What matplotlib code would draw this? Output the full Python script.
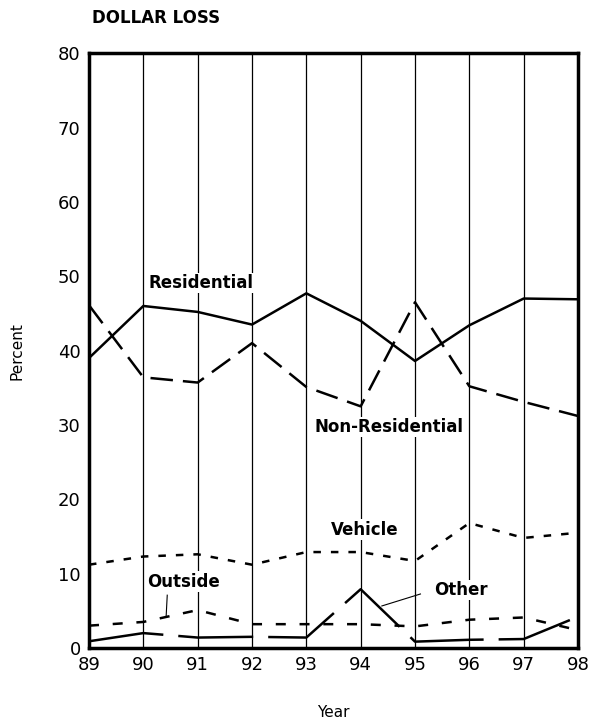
import numpy as np
import matplotlib.pyplot as plt

years = [89, 90, 91, 92, 93, 94, 95, 96, 97, 98]
year_labels = ['89', '90', '91', '92', '93', '94', '95', '96', '97', '98']

residential = [39.0, 46.0, 45.2, 43.5, 47.7, 44.0, 38.6, 43.4, 47.0, 46.9]
non_residential = [46.1, 36.4, 35.7, 41.0, 35.1, 32.5, 46.5, 35.2, 33.1, 31.2]
vehicle = [11.2, 12.3, 12.6, 11.2, 12.9, 12.9, 11.7, 16.8, 14.8, 15.5]
outside = [3.0, 3.5, 5.1, 3.2, 3.2, 3.2, 2.9, 3.8, 4.1, 2.4]
other = [0.9, 2.0, 1.4, 1.5, 1.4, 7.9, 0.85, 1.1, 1.2, 4.2]

fig = plt.figure(figsize=(5.91, 7.19), dpi=100)
ax = fig.add_axes([0.1506, 0.0988, 0.8274, 0.8272])

for yr in years:
    ax.axvline(yr, color='black', lw=0.9, zorder=1)

ax.plot(years, residential, color='black', lw=1.8, zorder=3)
ax.plot(years, non_residential, color='black', lw=1.8, dashes=(9, 4), zorder=3)
ax.plot(years, vehicle, color='black', lw=1.8, dashes=(3, 4), zorder=3)
ax.plot(years, outside, color='black', lw=1.8, dashes=(4, 5.5), zorder=3)
ax.plot(years, other, color='black', lw=1.8, dashes=(30, 6), zorder=3)

box = dict(facecolor='white', edgecolor='none', pad=1)
lbl = dict(fontsize=12, fontweight='bold', ha='center', va='center', bbox=box, zorder=4)
ax.text(91.06, 49.1, 'Residential', **lbl)
ax.text(94.53, 29.7, 'Non-Residential', **lbl)
ax.text(94.07, 15.9, 'Vehicle', **lbl)
ax.text(90.74, 8.9, 'Outside', **lbl)
ax.text(95.85, 7.8, 'Other', **lbl)

# leader lines
ax.plot([90.44, 90.42], [7.1, 4.3], color='black', lw=0.8, zorder=4)
ax.plot([95.1, 94.39], [7.26, 5.65], color='black', lw=0.8, zorder=4)

ax.set_xlim(89, 98)
ax.set_ylim(0, 80)
ax.set_xticks(years)
ax.set_xticklabels(year_labels)
ax.set_yticks(np.arange(0, 81, 10))
ax.tick_params(axis='both', length=0, labelsize=13, pad=6)
for s in ax.spines.values():
    s.set_linewidth(2.5)
    s.set_zorder(5)

ax.set_xlabel('Year', fontsize=11, labelpad=22)
ax.set_ylabel('Percent', fontsize=11, labelpad=24)
fig.text(0.156, 0.975, 'DOLLAR LOSS', fontsize=12, fontweight='bold', ha='left', va='center')

fig.savefig('out.png', dpi=100)
